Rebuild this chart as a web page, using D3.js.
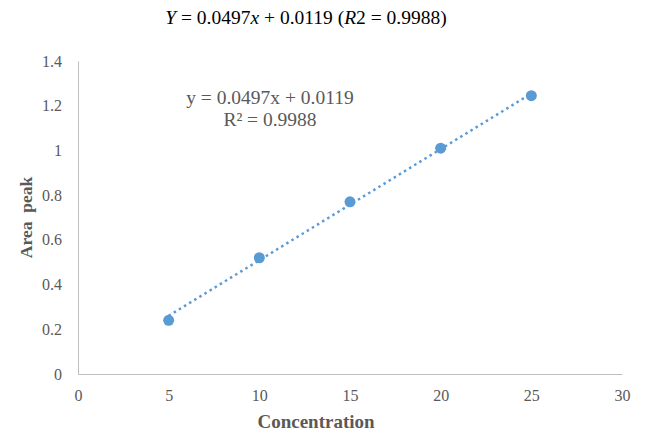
<!DOCTYPE html>
<html>
<head>
<meta charset="utf-8">
<script src="https://cdn.jsdelivr.net/npm/d3@7"></script>
<style>
  body { margin: 0; background: #fff; }
  text { font-family: "Liberation Serif", "Times New Roman", serif; }
</style>
</head>
<body>
<div id="chart"></div>
<script>
// data
const concentration = [5, 10, 15, 20, 25];
const areaPeak = [0.24, 0.52, 0.77, 1.01, 1.245];
const xTicks = [0, 5, 10, 15, 20, 25, 30];
const yTicks = [0, 0.2, 0.4, 0.6, 0.8, 1, 1.2, 1.4];
const slope = 0.0497;
const intercept = 0.0119;
const r2 = 0.9988;

const W = 646, H = 433;
const margin = { top: 61, right: 24, bottom: 59, left: 78 };
const width = W - margin.left - margin.right;
const height = H - margin.top - margin.bottom;

const svg = d3.select("#chart").append("svg")
    .attr("width", W)
    .attr("height", H);

// title above the chart
const title = svg.append("text")
    .attr("x", 306)
    .attr("y", 24)
    .attr("text-anchor", "middle")
    .style("font-size", "19.5px")
    .style("fill", "#000");
title.append("tspan").style("font-style", "italic").text("Y");
title.append("tspan").text(" = " + slope + "");
title.append("tspan").style("font-style", "italic").text("x");
title.append("tspan").text(" + " + intercept + " (");
title.append("tspan").style("font-style", "italic").text("R");
title.append("tspan").text("2 = " + r2 + ")");

const g = svg.append("g")
    .attr("transform", "translate(" + margin.left + "," + margin.top + ")");

//----------------------------SCALES----------------------------//
const x = d3.scaleLinear().domain([0, 30]).range([0, width]);
const y = d3.scaleLinear().domain([0, 1.4]).range([height, 0]);

//-----------------------------AXES-----------------------------//
const xAxis = g.append("g")
    .attr("transform", "translate(0," + height + ")")
    .call(d3.axisBottom(x).tickValues(xTicks).tickSize(0).tickPadding(16).tickFormat(d3.format("d")));
const yAxis = g.append("g")
    .call(d3.axisLeft(y).tickValues(yTicks).tickSize(0).tickPadding(16).tickFormat(d => d3.format("")(+d.toFixed(1))));

[xAxis, yAxis].forEach(a => {
    a.select(".domain").attr("stroke", "#bfbfbf").attr("stroke-width", 1);
    a.selectAll("text")
        .style("font-family", "'Liberation Serif', 'Times New Roman', serif")
        .style("font-size", "16px")
        .style("fill", "#595959");
});

svg.append("text")
    .attr("x", 316)
    .attr("y", 428)
    .attr("text-anchor", "middle")
    .style("font-size", "19px")
    .style("font-weight", "bold")
    .style("fill", "#595959")
    .text("Concentration");

svg.append("text")
    .attr("transform", "translate(32," + (margin.top + height / 2) + ") rotate(-90)")
    .attr("text-anchor", "middle")
    .style("font-size", "17.5px")
    .style("font-weight", "bold")
    .style("fill", "#595959")
    .text("Area\u00a0\u00a0peak");

//--------------------------TRENDLINE---------------------------//
const xr = d3.extent(concentration);
g.append("line")
    .attr("x1", x(xr[0])).attr("y1", y(slope * xr[0] + intercept))
    .attr("x2", x(xr[1])).attr("y2", y(slope * xr[1] + intercept))
    .attr("stroke", "#5b9bd5")
    .attr("stroke-width", 2.5)
    .attr("stroke-dasharray", "2.5,3.5");

//---------------------------POINTS-----------------------------//
g.selectAll("circle")
    .data(concentration.map((c, i) => ({ c: c, v: areaPeak[i] })))
    .enter()
    .append("circle")
    .attr("cx", d => x(d.c))
    .attr("cy", d => y(d.v))
    .attr("r", 5.5)
    .attr("fill", "#5b9bd5");

//---------------------------EQUATION---------------------------//
const eq = svg.append("text")
    .attr("x", 270)
    .attr("y", 104)
    .attr("text-anchor", "middle")
    .style("font-size", "19.5px")
    .style("fill", "#595959");
eq.append("tspan").attr("x", 270).text("y = " + slope + "x + " + intercept);
eq.append("tspan").attr("x", 270).attr("dy", 22).text("R\u00b2 = " + r2);
</script>
</body>
</html>
